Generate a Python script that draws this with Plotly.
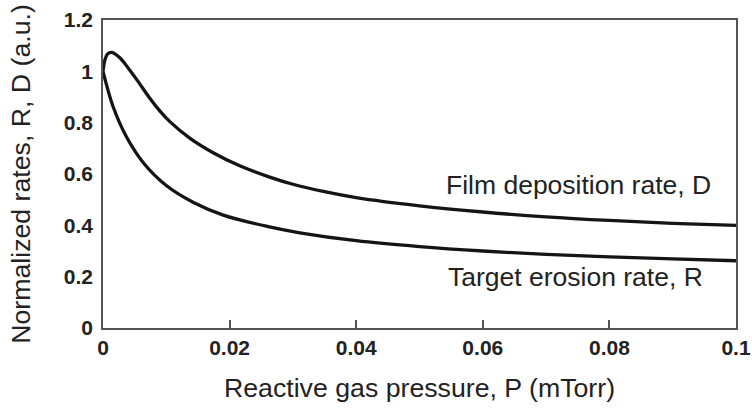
import plotly.graph_objects as go

# Reactive gas pressure, P (mTorr)
pressure_D = [0.0, 0.0003, 0.0007, 0.0014, 0.0027, 0.004, 0.0055, 0.0074, 0.009, 0.0106,
              0.0137, 0.0174, 0.0216, 0.0261, 0.03, 0.035, 0.04, 0.05, 0.06, 0.07,
              0.08, 0.09, 0.1]
deposition_D = [1.0, 1.044, 1.067, 1.074, 1.052, 1.012, 0.962, 0.895, 0.845, 0.803,
                0.74, 0.683, 0.632, 0.590, 0.560, 0.531, 0.508, 0.476, 0.452, 0.433,
                0.419, 0.408, 0.400]

pressure_R = [0.0, 0.0016, 0.0037, 0.0064, 0.0101, 0.0143, 0.019, 0.0261, 0.0311, 0.04,
              0.05, 0.06, 0.07, 0.08, 0.09, 0.1]
erosion_R = [1.0, 0.862, 0.745, 0.643, 0.553, 0.489, 0.440, 0.395, 0.371, 0.340,
             0.317, 0.300, 0.287, 0.277, 0.269, 0.262]

x_ticks = [0, 0.02, 0.04, 0.06, 0.08, 0.1]
x_tick_labels = ["0", "0.02", "0.04", "0.06", "0.08", "0.1"]
y_ticks = [0, 0.2, 0.4, 0.6, 0.8, 1.0, 1.2]
y_tick_labels = ["0", "0.2", "0.4", "0.6", "0.8", "1", "1.2"]

font_family = "Liberation Sans, Arial, sans-serif"
curve_color = "#141414"
text_color = "#222222"
axis_color = "#555555"

fig = go.Figure()
fig.add_trace(go.Scatter(x=pressure_D, y=deposition_D, mode="lines",
                         line=dict(color=curve_color, width=3.3, shape="spline", smoothing=1.0),
                         showlegend=False, hoverinfo="skip"))
fig.add_trace(go.Scatter(x=pressure_R, y=erosion_R, mode="lines",
                         line=dict(color=curve_color, width=3.3, shape="spline", smoothing=1.0),
                         showlegend=False, hoverinfo="skip"))

fig.add_annotation(x=0.0964, y=0.558, xref="x", yref="y", text="Film deposition rate, D",
                   showarrow=False, xanchor="right", yanchor="middle",
                   font=dict(family=font_family, size=26.5, color=text_color))
fig.add_annotation(x=0.0951, y=0.197, xref="x", yref="y", text="Target erosion rate, R",
                   showarrow=False, xanchor="right", yanchor="middle",
                   font=dict(family=font_family, size=26.5, color=text_color))

fig.update_layout(
    width=752, height=414,
    margin=dict(l=103, r=16, t=20, b=86),
    paper_bgcolor="white", plot_bgcolor="white",
    font=dict(family=font_family, color=text_color),
    xaxis=dict(range=[0, 0.1], tickvals=x_ticks, ticktext=x_tick_labels,
               ticks="inside", ticklen=8, tickwidth=1.5, tickcolor=axis_color,
               showline=True, linecolor=axis_color, linewidth=1.5, mirror=True,
               showgrid=False, zeroline=False, automargin=False,
               tickfont=dict(family=font_family, size=21, color=text_color, weight="bold"),
               title=dict(text="Reactive gas pressure, P (mTorr)", standoff=20,
                          font=dict(family=font_family, size=26.7, color=text_color))),
    yaxis=dict(range=[0, 1.2], tickvals=y_ticks, ticktext=y_tick_labels,
               ticks="", showline=True, linecolor=axis_color, linewidth=1.5, mirror=True,
               showgrid=False, zeroline=False, automargin=False, ticklabelstandoff=4,
               tickfont=dict(family=font_family, size=21, color=text_color, weight="bold"),
               title=dict(text="Normalized rates, R, D (a.u.)", standoff=26,
                          font=dict(family=font_family, size=26.7, color=text_color))),
)

fig.write_html("out.html")
